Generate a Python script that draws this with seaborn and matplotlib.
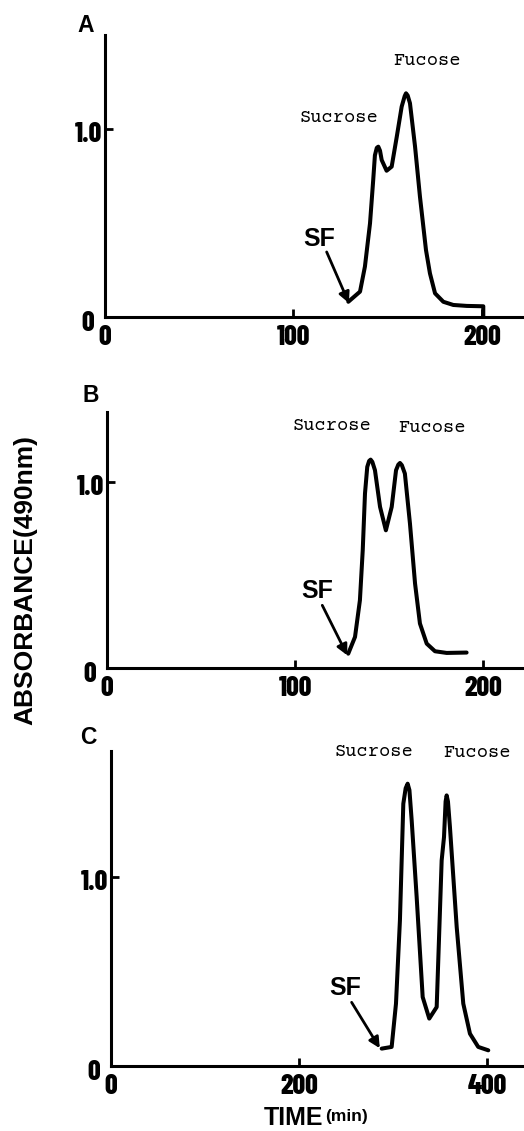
import matplotlib
matplotlib.use("Agg")
import matplotlib.pyplot as plt
import matplotlib.transforms as mtransforms
import seaborn as sns
import pandas as pd

# ---------------- data ----------------
time_a = [129.1, 135.3, 137.9, 140.6, 142.3, 143.2, 144.2, 145.0, 145.9, 146.8,
          149.4, 152.1, 154.8, 157.4, 159.0, 159.7, 160.6, 161.8, 164.5, 167.1,
          170.3, 172.4, 175.1, 179.5, 184.8, 191.9, 200.7, 200.7]
abs_a = [0.081, 0.135, 0.268, 0.498, 0.729, 0.860, 0.900, 0.906, 0.885, 0.835,
         0.778, 0.800, 0.959, 1.119, 1.175, 1.190, 1.178, 1.137, 0.906, 0.640,
         0.356, 0.232, 0.126, 0.081, 0.064, 0.059, 0.057, 0.0]

time_b = [128.2, 131.8, 134.4, 135.9, 137.1, 138.3, 139.3, 140.1, 141.0, 142.4,
          145.1, 148.2, 151.3, 153.6, 154.8, 155.7, 156.7, 158.3, 161.0, 163.7,
          166.3, 169.9, 174.3, 180.5, 191.1]
abs_b = [0.077, 0.167, 0.364, 0.633, 0.938, 1.081, 1.113, 1.120, 1.108, 1.063,
         0.866, 0.740, 0.866, 1.063, 1.093, 1.102, 1.090, 1.045, 0.776, 0.454,
         0.239, 0.131, 0.090, 0.081, 0.083]

time_c = [288.0, 298.6, 303.2, 307.4, 311.0, 313.5, 315.6, 317.5, 319.9, 325.2,
          331.6, 338.6, 346.5, 351.8, 354.3, 356.0, 357.1, 358.5, 360.6, 367.8,
          374.8, 381.9, 390.7, 401.4]
abs_c = [0.092, 0.101, 0.330, 0.771, 1.388, 1.470, 1.494, 1.460, 1.300, 0.894,
         0.365, 0.251, 0.312, 1.088, 1.212, 1.400, 1.432, 1.400, 1.265, 0.735,
         0.330, 0.171, 0.101, 0.083]

panel_labels = ["A", "B", "C"]
x_ticks = [[0, 100, 200], [0, 100, 200], [0, 200, 400]]
y_ticks = [0, 1.0]
y_tick_labels = ["0", "1.0"]
peak_names = ["Sucrose", "Fucose"]
marker_name = "SF"
x_label_main = "TIME"
x_label_unit = "(min)"
y_label = "ABSORBANCE(490nm)"

# ---------------- style ----------------
sns.set_theme(style="ticks")
plt.rcParams["font.family"] = ["Liberation Sans", "DejaVu Sans"]
narrow = ["Barlow Condensed", "DejaVu Sans"]
mono = ["Courier Prime", "Nimbus Mono PS", "Liberation Mono", "DejaVu Sans Mono"]

W, H = 524, 1131
fig = plt.figure(figsize=(W / 100, H / 100), dpi=100)

def rect(left_px, top_px, bottom_px):
    return [left_px / W, (H - bottom_px) / H, 1 - left_px / W, (bottom_px - top_px) / H]

panels = [
    dict(rect=rect(105, 35, 317), xlim=(0, 222.3), ylim=(0, 1.5),
         t=time_a, a=abs_a,
         sucrose=(124.0, 1.06), fucose=(170.6, 1.36),
         sf_text=(113.5, 0.415), arrow_tail=(117.6, 0.346), arrow_tip=(129.4, 0.074),
         letter=(86, 26)),
    dict(rect=rect(107, 412, 668), xlim=(0, 221.6), ylim=(0, 1.376),
         t=time_b, a=abs_b,
         sucrose=(119.7, 1.30), fucose=(172.9, 1.29),
         sf_text=(111.7, 0.412), arrow_tail=(114.4, 0.337), arrow_tip=(127.7, 0.068),
         letter=(91, 395)),
    dict(rect=rect(111, 751, 1066), xlim=(0, 439.4), ylim=(0, 1.667),
         t=time_c, a=abs_c,
         sucrose=(279.8, 1.66), fucose=(389.0, 1.655),
         sf_text=(249.0, 0.411), arrow_tail=(256.0, 0.337), arrow_tip=(286.0, 0.094),
         letter=(88, 737)),
]

for i, p in enumerate(panels):
    ax = fig.add_axes(p["rect"])
    ax.patch.set_alpha(0)
    df = pd.DataFrame({"time": p["t"], "absorbance": p["a"]})
    sns.lineplot(data=df, x="time", y="absorbance", ax=ax, color="black",
                 lw=2.9, sort=False, estimator=None)
    ax.set_xlim(*p["xlim"])
    ax.set_ylim(*p["ylim"])
    ax.set_xlabel("")
    ax.set_ylabel("")
    for s in ["top", "right"]:
        ax.spines[s].set_visible(False)
    for s in ["left", "bottom"]:
        ax.spines[s].set_linewidth(2.2)
        ax.spines[s].set_color("black")
    ax.set_xticks(x_ticks[i])
    ax.set_xticklabels([str(v) for v in x_ticks[i]])
    ax.set_yticks(y_ticks)
    ax.set_yticklabels(y_tick_labels)
    ax.tick_params(axis="both", which="major", direction="in", length=6, width=2,
                   color="black", bottom=True, left=True, top=False, right=False)
    ax.tick_params(axis="x", pad=6)
    ax.tick_params(axis="y", pad=2)
    for lab in ax.get_xticklabels() + ax.get_yticklabels():
        lab.set_fontfamily(narrow)
        lab.set_fontweight(800)
        lab.set_fontsize(20)
        lab.set_color("black")
    ylabs = ax.get_yticklabels()
    off0 = mtransforms.ScaledTranslation(-8 / 100, -4 / 100, fig.dpi_scale_trans)
    off1 = mtransforms.ScaledTranslation(0, -3 / 100, fig.dpi_scale_trans)
    ylabs[0].set_transform(ylabs[0].get_transform() + off0)
    ylabs[1].set_transform(ylabs[1].get_transform() + off1)

    ax.text(*p["sucrose"], peak_names[0], family=mono, fontsize=13.5,
            ha="center", va="center", color="black")
    ax.text(*p["fucose"], peak_names[1], family=mono, fontsize=13.5,
            ha="center", va="center", color="black")
    ax.text(*p["sf_text"], marker_name, family=["Liberation Sans", "DejaVu Sans"],
            fontweight="bold", fontsize=18, ha="center", va="center", color="black")
    ax.annotate("", xy=p["arrow_tip"], xytext=p["arrow_tail"],
                arrowprops=dict(arrowstyle="-|>", lw=2, color="black",
                                mutation_scale=16, shrinkA=0, shrinkB=0))
    lx, ly = p["letter"]
    fig.text(lx / W, 1 - ly / H, panel_labels[i], fontsize=16.5, fontweight="bold",
             ha="center", va="center", color="black")

fig.text(25 / W, 1 - 580 / H, y_label, rotation=90, fontsize=19, fontweight="bold",
         ha="center", va="center", color="black")
fig.text(323 / W, 1 - 1118 / H, x_label_main, fontsize=18, fontweight="bold",
         ha="right", va="center", color="black")
fig.text(325 / W, 1 - 1117 / H, x_label_unit, fontsize=12.5, fontweight="bold",
         ha="left", va="center", color="black")

fig.savefig("out.png", dpi=100, facecolor="white")
